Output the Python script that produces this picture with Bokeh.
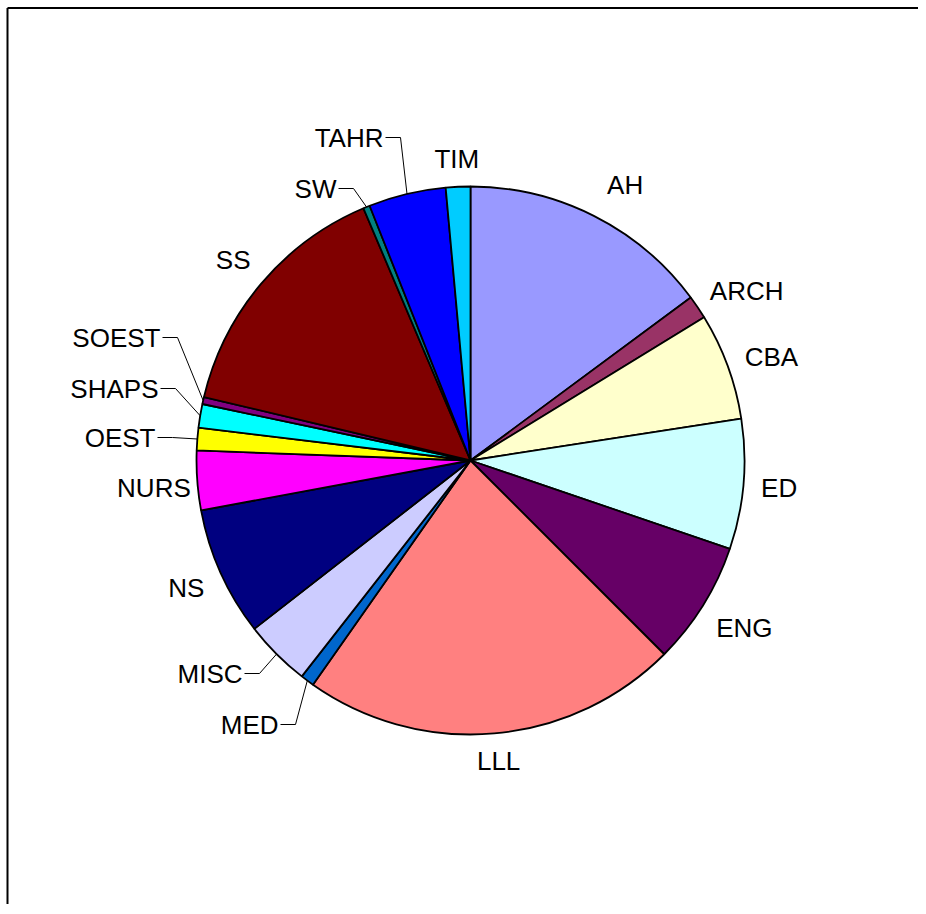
import math
from bokeh.plotting import figure
from bokeh.models import Range1d
from bokeh.core.properties import value
from bokeh.embed import file_html
from bokeh.resources import INLINE

# ---- data (share of total, in degrees of the pie) ----
categories = ["AH", "ARCH", "CBA", "ED", "ENG", "LLL", "MED", "MISC", "NS",
              "NURS", "OEST", "SHAPS", "SOEST", "SS", "SW", "TAHR", "TIM"]
values = [53.5, 5.0, 22.7, 27.6, 26.2, 80.1, 2.9, 14.1, 27.4,
          12.6, 4.8, 5.0, 1.5, 53.6, 1.4, 16.4, 5.2]
colors = ["#9999FF", "#993366", "#FFFFCC", "#CCFFFF", "#660066", "#FF8080",
          "#0066CC", "#CCCCFF", "#000080", "#FF00FF", "#FFFF00", "#00FFFF",
          "#800080", "#800000", "#008080", "#0000FF", "#00CCFF"]

# ---- layout ----
W, H = 918, 904
CX, CY = 470, 460          # screen coords of pie centre
R = 274
FONT = "Liberation Sans"
FS = 26
# labels placed with a leader line: right end of text (screen coords)
leader_labels = {
    "SOEST": (160, 337), "SHAPS": (158, 388), "OEST": (155, 437),
    "MISC": (242, 673), "MED": (278, 724), "SW": (336, 188), "TAHR": (383, 137),
}
# small nudges of outside labels (screen px)
nudges = {"AH": (16, 0), "ARCH": (5, 13), "CBA": (1, 7), "NURS": (11, 3),
          "ENG": (2, -2), "LLL": (2, -1)}

def sy(y):
    return H - y

p = figure(width=W, height=H, x_range=Range1d(0, W), y_range=Range1d(0, H),
           output_backend="svg", toolbar_location=None, min_border=0)
p.axis.visible = False
p.grid.visible = False
p.outline_line_color = None
p.background_fill_color = "white"
p.border_fill_color = "white"

# outer frame (left and top edges visible; the rest runs off the page)
p.segment(x0=[7, 7], y0=[0, sy(7.5)], x1=[7, W], y1=[sy(7.5), sy(7.5)],
          line_color="black", line_width=2)

total = sum(values)
starts, ends, mids = [], [], []
acc = 0.0
for v in values:
    a0 = acc / total * 360.0
    acc += v
    a1 = acc / total * 360.0
    starts.append(math.radians(90 - a0))
    ends.append(math.radians(90 - a1))
    mids.append((a0 + a1) / 2.0)

p.wedge(x=CX, y=sy(CY), radius=R, start_angle=starts, end_angle=ends,
        direction="clock", fill_color=colors, line_color="black", line_width=1.8)

def char_w(s):
    wid = {"A": .667, "B": .667, "C": .722, "D": .722, "E": .667, "G": .778, "H": .722,
           "I": .278, "L": .556, "M": .833, "N": .722, "O": .778, "P": .667, "R": .722,
           "S": .667, "T": .611, "U": .722, "W": .944}
    return sum(wid.get(c, .667) for c in s) * FS

lx, ly, lt = [], [], []
rx, ry, rt = [], [], []
for name, th in zip(categories, mids):
    t = math.radians(th)
    if name in leader_labels:
        ex, ey = leader_labels[name]
        rx.append(ex); ry.append(sy(ey)); rt.append(name)
        px = CX + R * math.sin(t)
        py = CY - R * math.cos(t)
        p.line(x=[ex + 2, ex + 17, px], y=[sy(ey), sy(ey), sy(py)],
               line_color="black", line_width=1)
    else:
        w = char_w(name)
        h = 20
        d = R + 17 + 0.5 * (w * abs(math.sin(t)) + h * abs(math.cos(t)))
        nx, ny = nudges.get(name, (0, 0))
        lx.append(CX + d * math.sin(t) + nx)
        ly.append(sy(CY - d * math.cos(t) + ny))
        lt.append(name)

p.text(x=lx, y=ly, text=lt, text_font=value(FONT), text_font_size=f"{FS}px",
       text_align="center", text_baseline="middle", text_color="black")
p.text(x=rx, y=ry, text=rt, text_font=value(FONT), text_font_size=f"{FS}px",
       text_align="right", text_baseline="middle", text_color="black")

open("out.html", "w").write(file_html(p, INLINE))
